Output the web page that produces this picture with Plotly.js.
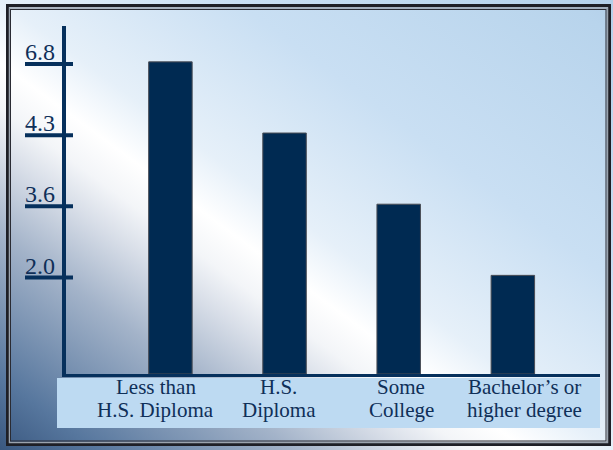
<!DOCTYPE html>
<html>
<head>
<meta charset="utf-8">
<script src="https://cdn.plot.ly/plotly-3.0.1.min.js"></script>
<style>
html, body { margin: 0; padding: 0; background: #ffffff; }
#chart { width: 613px; height: 450px; }
</style>
</head>
<body>
<div id="chart"></div>
<script>
// ---- data ----
const categories = ["Less than<br>H.S. Diploma", "H.S.<br>Diploma", "Some<br>College", "Bachelor’s or<br>higher degree"];
const values = [6.8, 4.3, 3.6, 2.0];
const tickLabels = values.map(v => v.toFixed(1));

// ---- style / layout constants ----
const NAVY = "#002a52";
const AXIS = "#06305c";
const TEXT = "#0f2f58";
const FONT = "Liberation Serif, Times New Roman, serif";
const W = 613, H = 450;
const M = { l: 66, r: 13, t: 26, b: 76 };
const PW = W - M.l - M.r, PH = H - M.t - M.b;
const FIRST_LEVEL = 1.356;   // gap between baseline and the lowest level
const BAR_PAD = 0.03;        // bar tops sit at the upper edge of the level line
const LABEL_X0 = 155.8, LABEL_STEP = 122.8;   // category label centres (px)
const LABEL_BASELINES = [395, 418.3];         // baselines of the two label lines (px)
const px2paperX = p => (p - M.l) / PW;
const px2paperY = p => (H - M.b - p) / PH;

// the graphic places the values on evenly spaced levels, ordered by size
const sorted = [...values].sort((a, b) => a - b);
const levels = values.map(v => FIRST_LEVEL + sorted.indexOf(v));

const bg = `<svg xmlns="http://www.w3.org/2000/svg" width="${W}" height="${H}" viewBox="0 0 ${W} ${H}">
<defs><linearGradient id="g" x1="0" y1="1" x2="1" y2="0">
<stop offset="0" stop-color="#3a5880"/>
<stop offset="0.08" stop-color="#57779e"/>
<stop offset="0.24" stop-color="#a3b3c9"/>
<stop offset="0.33" stop-color="#d8dee8"/>
<stop offset="0.38" stop-color="#f3f5f8"/>
<stop offset="0.43" stop-color="#ffffff"/>
<stop offset="0.50" stop-color="#e6f0f9"/>
<stop offset="0.69" stop-color="#c9dff3"/>
<stop offset="0.96" stop-color="#b8d4ec"/>
<stop offset="1" stop-color="#b4d0ea"/>
</linearGradient></defs>
<rect x="0" y="0" width="${W}" height="${H}" fill="url(#g)"/>
<rect x="7.5" y="5.5" width="602" height="439" fill="none" stroke="#1e1f26" stroke-width="3"/>
<rect x="9.5" y="8" width="598" height="434.5" fill="none" stroke="#9aa3ae" stroke-width="1.5"/>
<rect x="10.5" y="9.5" width="595.5" height="431.5" fill="none" stroke="#2a2b33" stroke-width="1"/>
</svg>`;
const bgURI = "data:image/svg+xml;charset=utf-8," + encodeURIComponent(bg);

const trace = {
  type: "bar",
  x: categories,
  y: levels.map(l => l + BAR_PAD),
  width: 0.381,
  marker: { color: NAVY, line: { color: "#4a4d55", width: 1 } },
  hovertext: tickLabels,
  hoverinfo: "text"
};

const tickShapes = levels.map(l => ({
  type: "line", xref: "paper", yref: "y",
  x0: px2paperX(25), x1: px2paperX(73), y0: l, y1: l,
  line: { color: AXIS, width: 4 }
}));

const bandShape = {
  type: "rect", xref: "paper", yref: "paper", layer: "below",
  x0: px2paperX(57), x1: px2paperX(600), y0: px2paperY(428), y1: px2paperY(378),
  fillcolor: "#bddaf2", line: { width: 0 }
};

const tickAnnotations = levels.map((l, i) => ({
  xref: "paper", yref: "y", x: px2paperX(23), y: l,
  xanchor: "left", yanchor: "bottom", yshift: -3,
  text: tickLabels[i], showarrow: false,
  font: { family: FONT, size: 24, color: TEXT }
}));

// category labels: one annotation per text line so the tight line spacing is kept
const categoryAnnotations = [];
categories.forEach((c, i) => {
  c.split("<br>").forEach((line, j) => {
    categoryAnnotations.push({
      xref: "paper", yref: "paper",
      x: px2paperX(LABEL_X0 + LABEL_STEP * i),
      y: px2paperY(LABEL_BASELINES[j] + 5.5),
      xanchor: "center", yanchor: "bottom",
      text: line, showarrow: false,
      font: { family: FONT, size: 21, color: TEXT }
    });
  });
});

const layout = {
  width: W, height: H,
  margin: M,
  paper_bgcolor: "rgba(0,0,0,0)",
  plot_bgcolor: "rgba(0,0,0,0)",
  showlegend: false,
  images: [{
    source: bgURI, xref: "paper", yref: "paper",
    x: px2paperX(0), y: px2paperY(0), sizex: W / PW, sizey: H / PH,
    xanchor: "left", yanchor: "top", sizing: "stretch", layer: "below"
  }],
  xaxis: {
    type: "category",
    range: [-0.9146, 3.7635],
    showline: true, linecolor: AXIS, linewidth: 3,
    showgrid: false, zeroline: false, ticks: "",
    showticklabels: false,
    fixedrange: true
  },
  yaxis: {
    range: [0, 4.89],
    showline: true, linecolor: AXIS, linewidth: 4,
    showgrid: false, zeroline: false, ticks: "",
    showticklabels: false,
    fixedrange: true
  },
  shapes: [bandShape, ...tickShapes],
  annotations: [...tickAnnotations, ...categoryAnnotations]
};

Plotly.newPlot("chart", [trace], layout, { displayModeBar: false, responsive: false });
</script>
</body>
</html>
